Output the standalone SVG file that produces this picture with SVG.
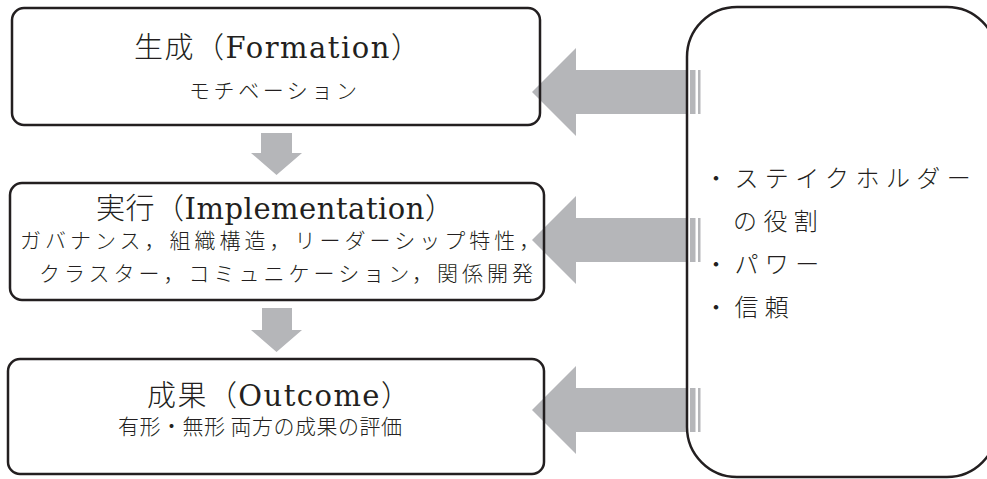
<svg xmlns="http://www.w3.org/2000/svg" width="987" height="479" viewBox="0 0 987 479">
<style>
.box{fill:none;stroke:#231f20;stroke-width:2.5}
.arr{fill:#b5b6b9}
.t{font-family:"DejaVu Serif","Noto Sans CJK JP",serif;fill:#231f20;font-size:29px;font-weight:300}
.s{font-family:"Noto Sans CJK JP",sans-serif;fill:#231f20;font-size:21px;letter-spacing:4px;font-weight:300}
.r{font-family:"Noto Sans CJK JP",sans-serif;fill:#231f20;font-size:24px;letter-spacing:6.4px;font-weight:300}
</style>
<rect width="987" height="479" fill="#fff"/>
<g id="connectors">
<polygon class="arr" points="532,92 576,48 576,70 687,70 687,114 576,114 576,136"/>
<rect class="arr" x="690" y="70" width="5.5" height="44"/>
<rect class="arr" x="698" y="70" width="2.5" height="44"/>
<polygon class="arr" points="532,240 576,196 576,218 687,218 687,262 576,262 576,284"/>
<rect class="arr" x="690" y="218" width="5.5" height="44"/>
<rect class="arr" x="698" y="218" width="2.5" height="44"/>
<polygon class="arr" points="532,410 576,366 576,388 687,388 687,432 576,432 576,454"/>
<rect class="arr" x="690" y="388" width="5.5" height="44"/>
<rect class="arr" x="698" y="388" width="2.5" height="44"/>
<polygon class="arr" points="261,133 292,133 292,153 302,153 276.5,175 251,153 261,153"/>
<polygon class="arr" points="262,308 292,308 292,330 302,330 276.5,352 251,330 262,330"/>
</g>
<g id="formation">
<rect class="box" x="12" y="8" width="528" height="117" rx="12"/>
<text class="t" x="134" y="58" textLength="286" lengthAdjust="spacing">生成（Formation）</text>
<text class="s" x="189" y="98" textLength="172" lengthAdjust="spacing">モチベーション</text>
</g>
<g id="implementation">
<rect class="box" x="10" y="183" width="534" height="117" rx="12"/>
<text class="t" x="96" y="219" textLength="358" lengthAdjust="spacing">実行（Implementation）</text>
<text class="s" x="20" y="248">ガバナンス，組織構造，リーダーシップ特性，</text>
<text class="s" x="39" y="281">クラスター，コミュニケーション，関係開発</text>
</g>
<g id="outcome">
<rect class="box" x="8" y="359" width="536" height="115" rx="12"/>
<text class="t" x="147" y="406" textLength="263" lengthAdjust="spacing">成果（Outcome）</text>
<text class="s" x="118" y="434" textLength="288" lengthAdjust="spacing">有形・無形 両方の成果の評価</text>
</g>
<g id="factors">
<rect class="box" x="687" y="7" width="310" height="470" rx="50"/>
<text class="r" x="704" y="187">・ステイクホルダー</text>
<text class="r" x="733" y="230">の役割</text>
<text class="r" x="704" y="273">・パワー</text>
<text class="r" x="704" y="316">・信頼</text>
</g>
</svg>
